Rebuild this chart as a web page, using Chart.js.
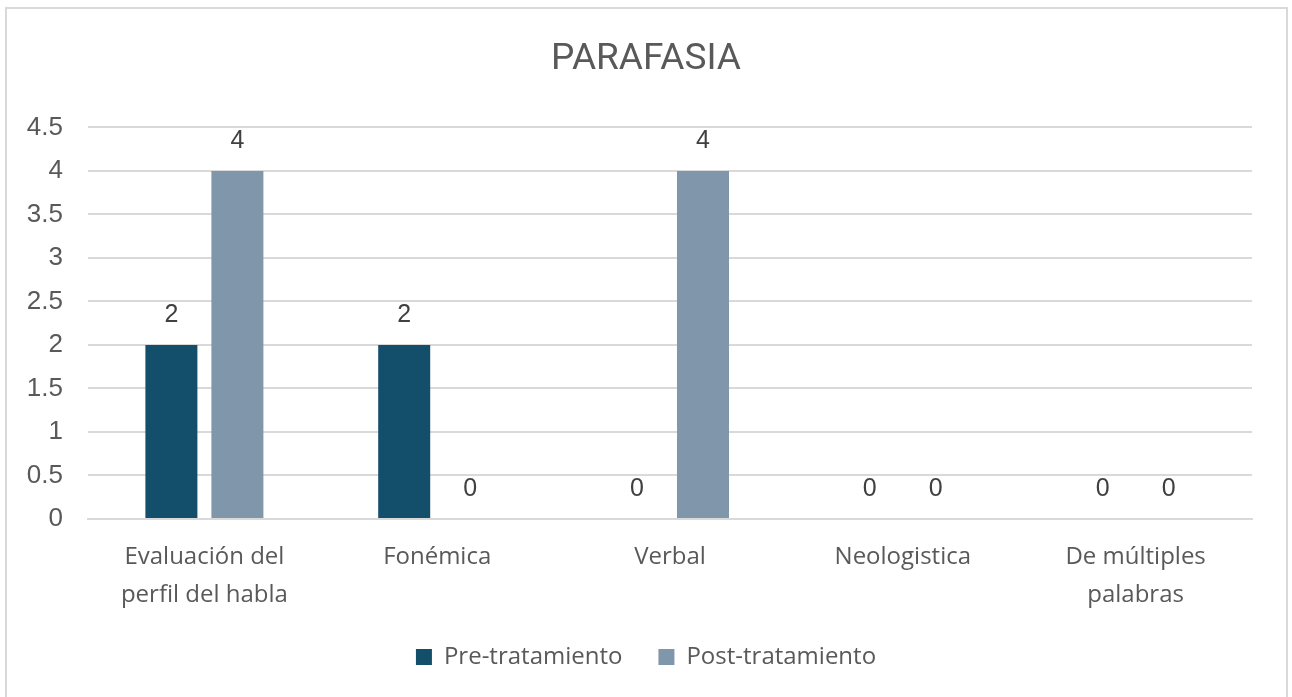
<!DOCTYPE html>
<html>
<head>
<meta charset="utf-8">
<script src="https://cdn.jsdelivr.net/npm/chart.js@4"></script>
<style>
  html, body { margin: 0; padding: 0; background: #ffffff; }
  #wrap { position: absolute; left: 0; top: 0; width: 1292px; height: 697px; }
  #frame { position: absolute; left: 5px; top: 7px; width: 1283px; height: 700px; border: 2px solid #d9d9d9; box-sizing: border-box; pointer-events: none; }
  canvas { position: absolute; left: 0; top: 0; }
</style>
</head>
<body>
<div id="wrap">
  <canvas id="c" width="1292" height="697"></canvas>
  <div id="frame"></div>
</div>
<script>
const categories = [
  ["Evaluación del", "perfil del habla"],
  ["Fonémica"],
  ["Verbal"],
  ["Neologistica"],
  ["De múltiples", "palabras"]
];
const seriesNames = ["Pre-tratamiento", "Post-tratamiento"];
const preValues = [2, 2, 0, 0, 0];
const postValues = [4, 0, 4, 0, 0];
const seriesColors = ["#134f6b", "#8096ab"];
const yTickLabels = ["0", "0.5", "1", "1.5", "2", "2.5", "3", "3.5", "4", "4.5"];
const yMax = 4.5;
const yStep = 0.5;

const valueLabels = {
  id: 'valueLabels',
  afterDatasetsDraw(chart) {
    const ctx = chart.ctx;
    ctx.save();
    ctx.font = '25px "Liberation Sans", Arial, sans-serif';
    ctx.fillStyle = '#404040';
    ctx.textAlign = 'center';
    ctx.textBaseline = 'middle';
    chart.data.datasets.forEach((ds, i) => {
      const meta = chart.getDatasetMeta(i);
      meta.data.forEach((bar, j) => {
        ctx.fillText(String(ds.data[j]), bar.x, bar.y - 30);
      });
    });
    ctx.restore();
  }
};

new Chart(document.getElementById('c'), {
  type: 'bar',
  data: {
    labels: categories,
    datasets: [
      { label: seriesNames[0], data: preValues, backgroundColor: seriesColors[0], categoryPercentage: 0.567, barPercentage: 0.788 },
      { label: seriesNames[1], data: postValues, backgroundColor: seriesColors[1], categoryPercentage: 0.567, barPercentage: 0.788 }
    ]
  },
  options: {
    responsive: false,
    animation: false,
    layout: { padding: { left: 0, right: 0, top: 0, bottom: 18 } },
    plugins: {
      title: {
        display: true,
        text: 'PARAFASIA',
        color: '#595959',
        font: { family: 'Roboto, "Liberation Sans", sans-serif', size: 37, weight: 'normal', lineHeight: 1.2 },
        padding: { top: 38, bottom: 45 }
      },
      legend: {
        position: 'bottom',
        labels: {
          color: '#595959',
          font: { family: '"Open Sans", sans-serif', size: 24 },
          boxWidth: 16, boxHeight: 16, padding: 36
        }
      },
      tooltip: { enabled: false }
    },
    scales: {
      x: {
        grid: { display: false, drawTicks: false },
        border: { display: true, color: '#d9d9d9', width: 2 },
        ticks: { color: '#595959', padding: 20, font: { family: '"Open Sans", sans-serif', size: 24, lineHeight: 1.55 }, maxRotation: 0, autoSkip: false },
        afterFit(s) { s.height = 90; }
      },
      y: {
        min: 0, max: yMax,
        grid: { color: '#d9d9d9', lineWidth: 2, drawTicks: false },
        border: { display: false },
        ticks: {
          stepSize: yStep, color: '#595959', padding: 25,
          font: { family: '"Liberation Sans", Arial, sans-serif', size: 26 },
          callback: (v, i) => yTickLabels[i]
        },
        afterFit(s) { s.width = 88; }
      },
      spacer: {
        type: 'linear',
        position: 'right',
        display: true,
        grid: { display: false, drawTicks: false },
        border: { display: false },
        ticks: { display: false },
        afterFit(s) { s.width = 40; }
      }
    }
  },
  plugins: [valueLabels]
});
</script>
</body>
</html>
